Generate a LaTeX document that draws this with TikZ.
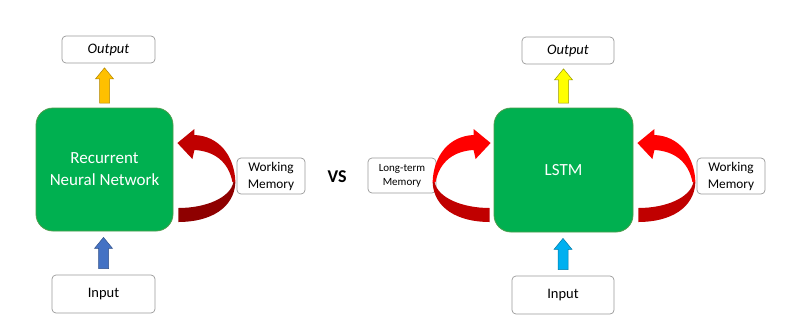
\documentclass[tikz,border=0pt]{standalone}
\usepackage{fontspec}
\setmainfont{Carlito}
\newcommand\blockup[4]{%
  \path ([yshift=#4pt]#1) coordinate (bu-b) (#1 |- #2) coordinate (bu-x) ([yshift=-#4pt]bu-x) coordinate (bu-t);
  \draw[blk,#3] ([xshift=-5pt]bu-b) -- ([xshift=-5pt,yshift=-11pt]bu-t)
    -- ([xshift=-9pt,yshift=-11pt]bu-t) -- (bu-t) -- ([xshift=9pt,yshift=-11pt]bu-t)
    -- ([xshift=5pt,yshift=-11pt]bu-t) -- ([xshift=5pt]bu-b) -- cycle;}
\begin{document}
\begin{tikzpicture}[x=1pt,y=-1pt,
  lbl/.style={draw=gray!80,fill=white,rounded corners=4pt,line width=0.7pt,inner sep=0pt,align=center},
  core/.style={draw=green!45!black!70,fill=gbox,rounded corners=17pt,line width=0.8pt,inner sep=0pt,text=white,align=center,font=\fontsize{17}{22}\selectfont},
  blk/.style={line width=0.5pt,line join=miter}
]
\definecolor{gbox}{HTML}{00B050}
\definecolor{ylA}{HTML}{FFC000}
\definecolor{ylB}{HTML}{FFFF00}
\definecolor{blA}{HTML}{4472C4}
\definecolor{blB}{HTML}{00B0F0}
\definecolor{rdA}{HTML}{C00000}
\definecolor{rdAd}{HTML}{8E0000}
\definecolor{rdB}{HTML}{FF0000}
\definecolor{rdBd}{HTML}{C00000}
\useasboundingbox[fill=white] (0,0) rectangle (799,322);

% ---------- left: RNN ----------
\node[core,minimum width=137pt,minimum height=123pt] (rnn) at (104.5,169.5) {Recurrent\\Neural Network};
\node[lbl,minimum width=93pt,minimum height=27pt,font=\fontsize{14.5}{17}\selectfont\itshape] (outA) at (108.5,49.5) {Output};
\node[lbl,minimum width=103pt,minimum height=38pt,font=\fontsize{14.5}{17}\selectfont] (inA) at (103.5,294) {Input};
\node[lbl,minimum width=68pt,minimum height=36pt,font=\fontsize{13.3}{17}\selectfont] (wmA) at (271,176) {Working\\Memory};

% ---------- VS ----------
\node[font=\fontsize{18}{20}\selectfont\bfseries] (vs) at (337,177) {VS};

% ---------- right: LSTM ----------
\node[core,minimum width=139pt,minimum height=124pt] (lstm) at (563.5,170) {LSTM};
\node[lbl,minimum width=92pt,minimum height=27pt,font=\fontsize{14.5}{17}\selectfont\itshape] (outB) at (568,50.5) {Output};
\node[lbl,minimum width=102pt,minimum height=38pt,font=\fontsize{14.5}{17}\selectfont] (inB) at (563,295) {Input};
\node[lbl,minimum width=68pt,minimum height=35pt,font=\fontsize{11}{14}\selectfont] (ltm) at (402,175.5) {Long-term\\Memory};
\node[lbl,minimum width=68pt,minimum height=36pt,font=\fontsize{13.3}{17}\selectfont] (wmB) at (731,176) {Working\\Memory};

% ---------- block arrows (up) ----------
\blockup{rnn.north}{outA.south}{draw=ylA!70!black,fill=ylA}{4.5}
\blockup{lstm.north}{outB.south}{draw=ylB!60!black,fill=ylB}{4.5}
\blockup{inA.north}{rnn.south}{draw=blA!70!black,fill=blA}{6}
\blockup{inB.north}{lstm.south}{draw=blB!70!black,fill=blB}{6}

% ---------- curved memory arrows ----------
\tikzset{
  curvedarrow/.pic={
    \fill[fill=\darkc] (1,208) .. controls (28,208) and (53,198) .. (56,182)
      -- (58,182) .. controls (57,208) and (33,222) .. (1,222) -- cycle;
    \fill[fill=\lightc] (55,182) .. controls (51,161) and (36,151) .. (17,150)
      -- (15,159) -- (0,143) -- (17,129) -- (17,135)
      .. controls (41,136) and (57,155) .. (58,182) -- cycle;
  }
}
\def\darkc{rdAd}\def\lightc{rdA}
\pic at ([xshift=4pt]rnn.east |- 0,0) {curvedarrow};
\def\darkc{rdBd}\def\lightc{rdB}
\pic at ([xshift=4pt]lstm.east |- 0,0) {curvedarrow};
\pic[xscale=-1] at ([xshift=-3pt]lstm.west |- 0,0) {curvedarrow};
\end{tikzpicture}
\end{document}
